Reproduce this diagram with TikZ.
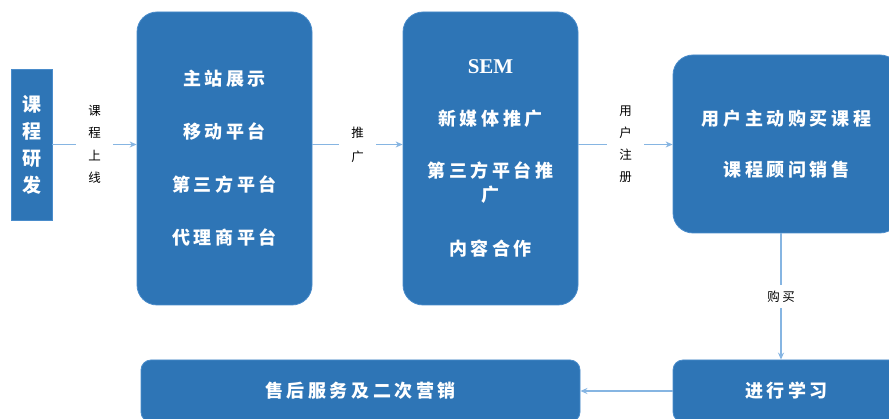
\documentclass[tikz,border=0pt]{standalone}
\usepackage{fontspec}
\setmainfont{Liberation Serif}
\newfontfamily\cjk{Noto Sans CJK SC}
\newfontfamily\cjks[LetterSpace=20]{Noto Sans CJK SC}
\newfontfamily\cjkl[LetterSpace=20]{Noto Sans CJK SC}
\usetikzlibrary{arrows.meta}
\definecolor{boxblue}{HTML}{2E75B6}
\definecolor{boxedge}{HTML}{4A8CCB}
\definecolor{lineblue}{HTML}{86B5E2}
\begin{document}
\begin{tikzpicture}[x=1pt,y=-1pt,
  box/.style={fill=boxblue, draw=boxedge, line width=0.8pt, text=white, align=center, inner sep=0pt},
  btxt/.style={font=\cjks\bfseries\fontsize{18}{53}\selectfont},
  lab/.style={font=\cjkl\fontsize{12.5}{22.5}\selectfont, text=black, align=center, fill=white, inner xsep=12pt, inner ysep=4pt},
  conn/.style={draw=lineblue, line width=1.1pt, -{Stealth[length=7pt,width=6pt]}}]
\clip (0,0) rectangle (889,419);
\fill[white] (0,0) rectangle (889,419);
% boxes
\node[box, font=\cjk\bfseries\fontsize{19}{27}\selectfont, minimum width=41pt, minimum height=151pt] (rd) at (31.5,144.5) {课\\程\\研\\发};
\node[box, btxt, rounded corners=20pt, minimum width=175pt, minimum height=293pt] (web) at (224.5,158.5) {主站展示\\移动平台\\第三方平台\\代理商平台};
\node[box, font=\cjks\bfseries\fontsize{18}{24}\selectfont, rounded corners=20pt, minimum width=175pt, minimum height=293pt] (sem) at (490.5,158.5) {{\rmfamily\bfseries\fontsize{21}{24}\selectfont SEM}\\[28pt]新媒体推广\\[28pt]第三方平台推\\广\\[30pt]内容合作};
\node[box, font=\cjks\bfseries\fontsize{18}{51}\selectfont, rounded corners=20pt, minimum width=227pt, minimum height=178pt] (buy) at (786.5,144) {用户主动购买课程\\课程顾问销售};
\node[box, btxt, rounded corners=10pt, minimum width=227pt, minimum height=62pt] (learn) at (786.5,391) {进行学习};
\node[box, btxt, rounded corners=10pt, minimum width=439pt, minimum height=62pt] (after) at (360.5,391) {售后服务及二次营销};
% connectors
\draw[conn] (rd.east) -- node[lab] {课\\程\\上\\线} (rd.east -| web.west);
\draw[conn] (rd.east -| web.east) -- node[lab, font=\cjkl\fontsize{12.5}{24}\selectfont] {推\\广} (rd.east -| sem.west);
\draw[conn] (rd.east -| sem.east) -- node[lab, font=\cjkl\fontsize{12.5}{22}\selectfont] {用\\户\\注\\册} (rd.east -| buy.west);
\draw[conn] ([xshift=-5.5pt]buy.south) -- node[lab, inner xsep=3pt, inner ysep=6pt] {购买} ([xshift=-5.5pt]buy.south |- learn.north);
\draw[conn] (learn.west) -- (after.east);
\end{tikzpicture}
\end{document}
